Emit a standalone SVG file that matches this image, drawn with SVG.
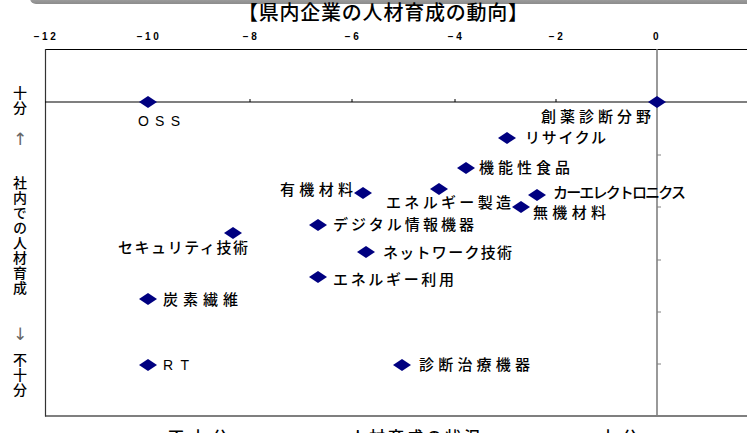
<svg xmlns="http://www.w3.org/2000/svg" width="747" height="433" viewBox="0 0 747 433">
<style>
.lbl{font-family:"Noto Sans CJK JP","Noto Sans",sans-serif;font-size:15px;font-weight:500;fill:#000}
.lat{font-family:"Liberation Sans","Noto Sans",sans-serif;font-size:14px;fill:#000}
.tick{font-family:"Liberation Sans","Noto Sans",sans-serif;font-size:10px;font-weight:bold;fill:#000;text-anchor:middle}
.ax{font-family:"Noto Sans CJK JP","Noto Sans",sans-serif;font-size:14px;font-weight:500;fill:#000;writing-mode:vertical-rl;text-orientation:upright}
.arr{font-family:"DejaVu Sans",sans-serif;font-size:17px;fill:#666;text-anchor:middle}
.bot{font-family:"Noto Sans CJK JP","Noto Sans",sans-serif;font-size:16px;font-weight:500;fill:#000}
.d{fill:#000080}
</style>
<defs>
<path id="dm" d="M-9,0 L0,-6 L9,0 L0,6 Z"/>
<linearGradient id="bar" x1="0" y1="0" x2="0" y2="1">
<stop offset="0" stop-color="#c8c8c8"/>
<stop offset="1" stop-color="#8c8c8c"/>
</linearGradient>
</defs>
<rect x="0" y="0" width="747" height="433" fill="#fff"/>
<rect x="30" y="-12" width="730" height="16" rx="6" fill="url(#bar)"/>
<text x="238" y="20" font-family="'Noto Sans CJK JP',sans-serif" font-size="20" font-weight="500" textLength="290" lengthAdjust="spacing">【県内企業の人材育成の動向】</text>

<g id="axes">
<line x1="45" y1="49.5" x2="747" y2="49.5" stroke="#000" stroke-width="1.2"/>
<line x1="45" y1="416" x2="747" y2="416" stroke="#000" stroke-width="1.2"/>
<line x1="45.5" y1="49" x2="45.5" y2="416.5" stroke="#333" stroke-width="1.2"/>
<line x1="45" y1="102" x2="747" y2="102" stroke="#000" stroke-width="1.2"/>
<line x1="657" y1="49" x2="657" y2="416" stroke="#808080" stroke-width="1.6"/>
<g stroke="#000" stroke-width="1">
<line x1="148" y1="99" x2="148" y2="102"/>
<line x1="250" y1="99" x2="250" y2="102"/>
<line x1="352" y1="99" x2="352" y2="102"/>
<line x1="455" y1="99" x2="455" y2="102"/>
<line x1="556" y1="99" x2="556" y2="102"/>
</g>
<g stroke="#808080" stroke-width="1">
<line x1="657" y1="155" x2="661" y2="155"/>
<line x1="657" y1="207" x2="661" y2="207"/>
<line x1="657" y1="260" x2="661" y2="260"/>
<line x1="657" y1="312" x2="661" y2="312"/>
<line x1="657" y1="364" x2="661" y2="364"/>
</g>
<g class="tick" letter-spacing="2.5">
<text x="46" y="40">−12</text>
<text x="149" y="40">−10</text>
<text x="251" y="40">−8</text>
<text x="353" y="40">−6</text>
<text x="456" y="40">−4</text>
<text x="557" y="40">−2</text>
<text x="657" y="40">0</text>
</g>
<g id="y-title">
<text class="ax" x="20" y="86" letter-spacing="1">十分</text>
<text class="arr" x="20" y="145">↑</text>
<text class="ax" x="20" y="176" letter-spacing="1">社内での人材育成</text>
<text class="arr" x="20" y="340">↓</text>
<text class="ax" x="20" y="353" letter-spacing="1">不十分</text>
</g>
<g id="x-title">
<text class="bot" x="168" y="443" textLength="60" lengthAdjust="spacing">不十分</text>
<text class="bot" x="250" y="443">←</text>
<text class="bot" x="350" y="443" textLength="130" lengthAdjust="spacing">人材育成の状況</text>
<text class="bot" x="560" y="443">→</text>
<text class="bot" x="600" y="443" textLength="38" lengthAdjust="spacing">十分</text>
</g>
</g>

<g id="connectors"></g>

<g id="n-oss"><use href="#dm" class="d" x="148" y="102"/><text class="lat" x="138" y="126" textLength="42" lengthAdjust="spacing">OSS</text></g>
<g id="n-souyaku"><use href="#dm" class="d" x="657" y="102"/><text class="lbl" x="541" y="122" textLength="110" lengthAdjust="spacing">創薬診断分野</text></g>
<g id="n-recycle"><use href="#dm" class="d" x="507" y="138"/><text class="lbl" x="525" y="143" textLength="81" lengthAdjust="spacing">リサイクル</text></g>
<g id="n-kinousei"><use href="#dm" class="d" x="466" y="168"/><text class="lbl" x="479" y="173" textLength="91" lengthAdjust="spacing">機能性食品</text></g>
<g id="n-ene-seizo"><use href="#dm" class="d" x="439" y="189"/><text class="lbl" x="386" y="208" textLength="125" lengthAdjust="spacing">エネルギー製造</text></g>
<g id="n-car"><use href="#dm" class="d" x="537" y="195"/><text class="lbl" x="553" y="198" font-size="11" textLength="133" lengthAdjust="spacing">カーエレクトロニクス</text></g>
<g id="n-muki"><use href="#dm" class="d" x="521" y="207"/><text class="lbl" x="533" y="218" textLength="73" lengthAdjust="spacing">無機材料</text></g>
<g id="n-yuki"><use href="#dm" class="d" x="363" y="193"/><text class="lbl" x="280" y="195" textLength="73" lengthAdjust="spacing">有機材料</text></g>
<g id="n-digital"><use href="#dm" class="d" x="318" y="225"/><text class="lbl" x="333" y="230" textLength="141" lengthAdjust="spacing">デジタル情報機器</text></g>
<g id="n-security"><use href="#dm" class="d" x="233" y="233"/><text class="lbl" x="118" y="253" textLength="130" lengthAdjust="spacing">セキュリティ技術</text></g>
<g id="n-network"><use href="#dm" class="d" x="366" y="252"/><text class="lbl" x="383" y="258" textLength="129" lengthAdjust="spacing">ネットワーク技術</text></g>
<g id="n-ene-riyo"><use href="#dm" class="d" x="318" y="277"/><text class="lbl" x="333" y="285" textLength="121" lengthAdjust="spacing">エネルギー利用</text></g>
<g id="n-tanso"><use href="#dm" class="d" x="148" y="299"/><text class="lbl" x="163" y="305" textLength="75" lengthAdjust="spacing">炭素繊維</text></g>
<g id="n-rt"><use href="#dm" class="d" x="148" y="365"/><text class="lat" x="163" y="370" textLength="26" lengthAdjust="spacing">RT</text></g>
<g id="n-shindan"><use href="#dm" class="d" x="402" y="365"/><text class="lbl" x="419" y="370" textLength="111" lengthAdjust="spacing">診断治療機器</text></g>
</svg>
